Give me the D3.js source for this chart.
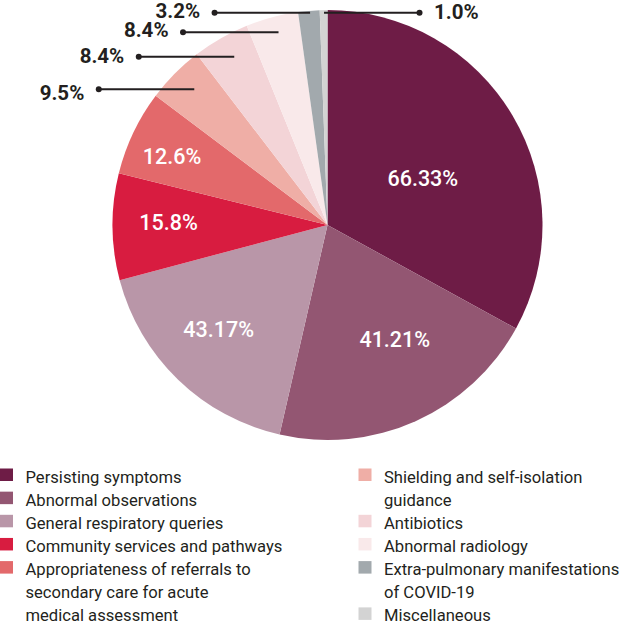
<!DOCTYPE html>
<html>
<head>
<meta charset="utf-8">
<script src="https://cdn.jsdelivr.net/npm/d3@7"></script>
<style>
  html, body { margin: 0; padding: 0; background: #ffffff; }
  svg { display: block; }
</style>
</head>
<body>
<svg id="chart" width="629" height="626"></svg>
<script>
// ---- data ----
const categories = [
  "Persisting symptoms",
  "Abnormal observations",
  "General respiratory queries",
  "Community services and pathways",
  "Appropriateness of referrals to secondary care for acute medical assessment",
  "Shielding and self-isolation guidance",
  "Antibiotics",
  "Abnormal radiology",
  "Extra-pulmonary manifestations of COVID-19",
  "Miscellaneous"
];
// percentages printed on the chart
const percentLabels = ["66.33%", "41.21%", "43.17%", "15.8%", "12.6%", "9.5%", "8.4%", "8.4%", "3.2%", "1.0%"];
// share of the circle each slice occupies in the picture (%)
const sliceShare = [33.0, 20.6, 17.3, 8.0, 6.4, 4.33, 4.28, 3.94, 1.61, 0.58];
// legend text, with the line breaks used in the picture
const legendText = [
  ["Persisting symptoms"],
  ["Abnormal observations"],
  ["General respiratory queries"],
  ["Community services and pathways"],
  ["Appropriateness of referrals to", "secondary care for acute", "medical assessment"],
  ["Shielding and self-isolation", "guidance"],
  ["Antibiotics"],
  ["Abnormal radiology"],
  ["Extra-pulmonary manifestations", "of COVID-19"],
  ["Miscellaneous"]
];
const colors = ["#6e1c46", "#935672", "#b996a8", "#d81c40", "#e3696b", "#efaea6", "#f3d4d7", "#f9e9ea", "#a2a9ad", "#d3d3d3"];

// ---- layout ----
const svg = d3.select("#chart");
const cx = 327.5, cy = 225, R = 215;

const pie = d3.pie().value(d => d).sort(null);
const arcs = pie(sliceShare);
const arc = d3.arc().innerRadius(0).outerRadius(R);

const g = svg.append("g").attr("transform", `translate(${cx},${cy})`);
g.selectAll("path.slice")
  .data(arcs)
  .join("path")
  .attr("class", "slice")
  .attr("d", arc)
  .attr("fill", (d, i) => colors[i]);

// inside labels (first five slices)
const insideR = [106, 133, 151, 159, 170];
const insideDA = [4.7, -6.2, 2.1, 1.5, -1.6]; // degrees
arcs.slice(0, 5).forEach((d, i) => {
  const a = (d.startAngle + d.endAngle) / 2 + insideDA[i] * Math.PI / 180;
  const x = insideR[i] * Math.sin(a), y = -insideR[i] * Math.cos(a);
  g.append("text")
    .attr("x", x).attr("y", y).attr("dy", "0.36em")
    .attr("text-anchor", "middle")
    .attr("font-family", "Roboto, sans-serif")
    .attr("font-weight", 500)
    .attr("font-size", 21.5)
    .attr("fill", "#ffffff")
    .text(percentLabels[i]);
});

// outside labels with leaders (last five slices)
const leaderY = [89.3, 56.7, 32.3, 12.7, 12.7];     // absolute y of each leader line
const labelDrop = [10.7, 6.0, 4.6, 5.6, 6.2];       // baseline below leader line
const leaderSide = [-1, -1, -1, -1, 1];
const leaderLen = 95.5;
const leaderFrac = 0.55;
arcs.slice(5).forEach((d, k) => {
  const i = k + 5;
  const a = d.startAngle + (d.endAngle - d.startAngle) * leaderFrac;
  const ly = leaderY[k] - cy;
  const t = -ly / Math.cos(a);
  const x0 = t * Math.sin(a);
  const x1 = x0 + leaderSide[k] * leaderLen;
  g.append("line")
    .attr("x1", x0).attr("y1", ly).attr("x2", x1).attr("y2", ly)
    .attr("stroke", "#231f20").attr("stroke-width", 2);
  g.append("circle").attr("cx", x1).attr("cy", ly).attr("r", 3).attr("fill", "#231f20");
  g.append("text")
    .attr("x", x1 + leaderSide[k] * 14.5)
    .attr("y", ly + labelDrop[k])
    .attr("text-anchor", leaderSide[k] < 0 ? "end" : "start")
    .attr("font-family", "Roboto, sans-serif")
    .attr("font-weight", 700)
    .attr("font-size", 20.5)
    .attr("fill", "#231f20")
    .text(percentLabels[i]);
});

// legend
const rowH = 23.15, base0 = 482.5;
const colX = [0, 358.5];
const legendRows = [0, 1, 2, 3, 4, 0, 2, 3, 4, 6];
const legendCol = [0, 0, 0, 0, 0, 1, 1, 1, 1, 1];
categories.forEach((c, i) => {
  const x = colX[legendCol[i]];
  const yb = base0 + legendRows[i] * rowH;
  svg.append("rect")
    .attr("x", x).attr("y", yb - 14).attr("width", 13).attr("height", 12.5)
    .attr("fill", colors[i]);
  const txt = svg.append("text")
    .attr("font-family", "Roboto, sans-serif")
    .attr("font-size", 16.6)
    .attr("fill", "#231f20");
  legendText[i].forEach((line, j) => {
    txt.append("tspan").attr("x", x + 25.5).attr("y", yb + j * rowH).text(line);
  });
});
</script>
</body>
</html>
